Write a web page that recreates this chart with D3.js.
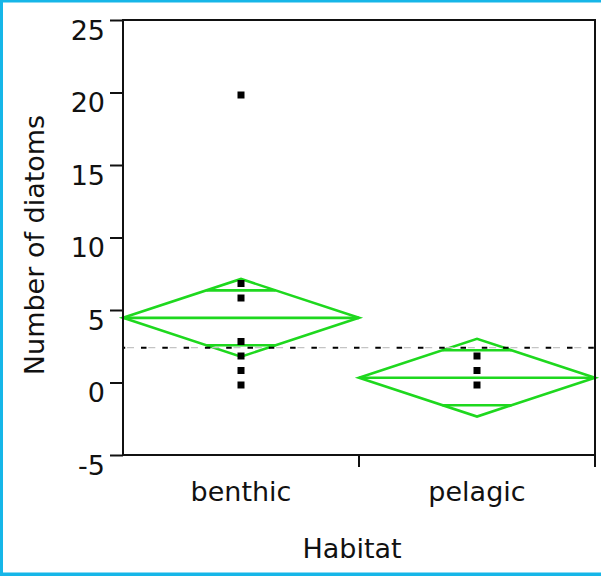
<!DOCTYPE html>
<html>
<head>
<meta charset="utf-8">
<script src="https://cdn.jsdelivr.net/npm/d3@7"></script>
<style>
  html, body { margin: 0; padding: 0; background: #fff; }
  svg { display: block; }
  text { font-family: "DejaVu Sans", sans-serif; fill: #111; }
</style>
</head>
<body>
<svg id="chart" width="601" height="576"></svg>
<script>
// Habitat groups and the observed counts (distinct values shown as markers)
const categories = ["benthic", "pelagic"];
const benthicCounts = [20, 7, 6, 3, 2, 1, 0];
const pelagicCounts = [2, 1, 0];
// Group means and the half-height of the 95% confidence diamonds
const groupMeans = [4.46, 0.33];
const ciHalf = [2.68, 2.68];
const grandMean = 2.4;
const yTicks = [-5, 0, 5, 10, 15, 20, 25];

const svg = d3.select("#chart");
const W = 601, H = 576;
const plot = { left: 123, right: 595, top: 20, bottom: 455 };

// Frame of the image (cyan border on left, top and bottom)
const borderColor = "#16b6e8";
svg.append("rect").attr("x", 0).attr("y", 0).attr("width", W).attr("height", 2.5).attr("fill", borderColor);
svg.append("rect").attr("x", 0).attr("y", 0).attr("width", 3).attr("height", H).attr("fill", borderColor);
svg.append("rect").attr("x", 0).attr("y", H - 3.5).attr("width", W).attr("height", 3.5).attr("fill", borderColor);

const y = d3.scaleLinear().domain([-5, 25]).range([plot.bottom, plot.top]);
const x = d3.scaleBand().domain(categories).range([plot.left, plot.right]).paddingInner(0).paddingOuter(0);

// Left axis with ticks pointing outward and labels hanging below each tick
const yAxis = svg.append("g")
  .attr("transform", `translate(${plot.left},0)`)
  .call(d3.axisLeft(y).tickValues(yTicks).tickSize(13).tickSizeOuter(0).tickFormat(d => String(d)));
yAxis.select(".domain").remove();
yAxis.selectAll(".tick line").attr("stroke", "#111").attr("stroke-width", 2);
yAxis.selectAll(".tick text")
  .attr("x", -18).attr("dy", null).attr("y", 19)
  .attr("font-size", 27).attr("font-family", "DejaVu Sans, sans-serif")
  .attr("fill", "#111").attr("text-anchor", "end");

// Category boundary ticks below the bottom axis
svg.append("g").selectAll("line")
  .data(categories)
  .join("line")
  .attr("x1", d => x(d) + x.bandwidth()).attr("x2", d => x(d) + x.bandwidth())
  .attr("y1", plot.bottom).attr("y2", plot.bottom + 12)
  .attr("stroke", "#111").attr("stroke-width", 2);

// Category labels
svg.append("g").selectAll("text")
  .data(categories)
  .join("text")
  .attr("x", d => x(d) + x.bandwidth() / 2)
  .attr("y", 501)
  .attr("text-anchor", "middle")
  .attr("font-size", 27)
  .text(d => d);

// Axis titles
svg.append("text")
  .attr("x", 352).attr("y", 558)
  .attr("text-anchor", "middle").attr("font-size", 27)
  .text("Habitat");
svg.append("text")
  .attr("transform", "translate(44,245) rotate(-90)")
  .attr("text-anchor", "middle").attr("font-size", 27)
  .text("Number of diatoms");

// Means diamonds with overlap marks
const green = "#1ed81e";
const dg = svg.append("g").attr("fill", "none").attr("stroke", green).attr("stroke-width", 2.6);
categories.forEach((c, i) => {
  const x0 = x(c), x1 = x(c) + x.bandwidth(), cx = x(c) + x.bandwidth() / 2;
  const m = groupMeans[i], h = ciHalf[i];
  const p = d3.path();
  p.moveTo(x0, y(m)); p.lineTo(cx, y(m + h)); p.lineTo(x1, y(m)); p.lineTo(cx, y(m - h)); p.closePath();
  dg.append("path").attr("d", p.toString()).attr("stroke-linejoin", "miter");
  dg.append("line").attr("x1", x0).attr("x2", x1).attr("y1", y(m)).attr("y2", y(m));
  const k = 1 / Math.SQRT2;
  const hw = (x.bandwidth() / 2) * (1 - k);
  [m + h * k, m - h * k].forEach(v => {
    dg.append("line").attr("x1", cx - hw).attr("x2", cx + hw).attr("y1", y(v)).attr("y2", y(v));
  });
});

// Grand mean reference line (light gray dashes interleaved with black dashes)
const gm = y(grandMean);
svg.append("line")
  .attr("x1", plot.left).attr("x2", plot.right).attr("y1", gm).attr("y2", gm)
  .attr("stroke", "#c4c4c4").attr("stroke-width", 1.2)
  .attr("stroke-dasharray", "7,14.3").attr("stroke-dashoffset", 17.3);
svg.append("line")
  .attr("x1", plot.left).attr("x2", plot.right).attr("y1", gm).attr("y2", gm)
  .attr("stroke", "#000").attr("stroke-width", 2)
  .attr("stroke-dasharray", "5.5,15.8").attr("stroke-dashoffset", 3.3);

// Observation markers
const markerSize = 7, markerDrop = 2.5;
const series = [benthicCounts, pelagicCounts];
categories.forEach((c, i) => {
  const cx = x(c) + x.bandwidth() / 2;
  svg.append("g").selectAll("rect")
    .data(series[i])
    .join("rect")
    .attr("x", cx - markerSize / 2)
    .attr("y", d => y(d) + markerDrop - markerSize / 2)
    .attr("width", markerSize).attr("height", markerSize)
    .attr("fill", "#000");
});

// Plot frame
svg.append("rect")
  .attr("x", plot.left).attr("y", plot.top)
  .attr("width", plot.right - plot.left).attr("height", plot.bottom - plot.top)
  .attr("fill", "none").attr("stroke", "#111").attr("stroke-width", 2);
</script>
</body>
</html>
